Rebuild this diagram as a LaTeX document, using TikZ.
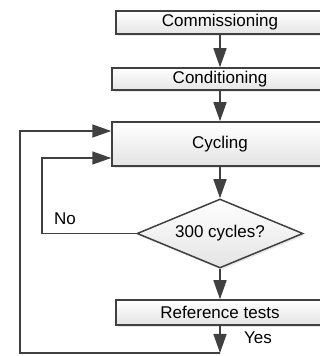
\documentclass[tikz,border=0pt]{standalone}
\usepackage{fontspec}
\setmainfont{Liberation Sans}
\usetikzlibrary{arrows.meta,shapes.geometric,shadows}
\definecolor{FlowLine}{HTML}{404040}
\definecolor{FlowFill}{HTML}{E4E4E4}

\begin{document}
\begin{tikzpicture}[x=1pt,y=1pt,font=\fontsize{17}{20}\selectfont,
  stage/.style={draw=FlowLine,line width=1.5pt,top color=white,bottom color=FlowFill,minimum width=208pt,inner sep=0pt,
    drop shadow={opacity=.18,shadow xshift=1.5pt,shadow yshift=-2pt}},
  flow/.style={FlowLine,line width=1.5pt,-{Triangle[length=19pt,width=13pt]}}]
\useasboundingbox (0,0) rectangle (320,356);
\clip (0,0) rectangle (320,356);
\node[stage,minimum height=23pt] (comm) at (220,333.5) {Commissioning};
\node[stage,minimum width=216pt,minimum height=22pt] (cond) at (220,277) {Conditioning};
\node[stage,minimum width=216pt,minimum height=44pt] (cyc) at (220,212) {Cycling};
\node[stage,diamond,minimum width=166pt,minimum height=69pt,aspect=2.4] (chk) at (220,122.5) {300 cycles?};
\node[stage,minimum height=25pt] (ref) at (220,43.5) {Reference tests};
\coordinate (turn) at (220,3);
\coordinate (outer) at (20,225);
\coordinate (inner) at (42,198);
\draw[flow] (comm) -- (cond);
\draw[flow] (cond) -- (cyc);
\draw[flow] (cyc) -- (chk);
\draw[flow] (chk) -- (ref);
\draw[flow] (ref) -- (turn);
\draw[flow] (turn) -| (outer) -- (cyc.west |- outer);
\draw[flow] (chk.west) -| (inner) -- (cyc.west |- inner);
\node (no) at (65,137) {No};
\node (yes) at (258,18) {Yes};
\end{tikzpicture}
\end{document}
